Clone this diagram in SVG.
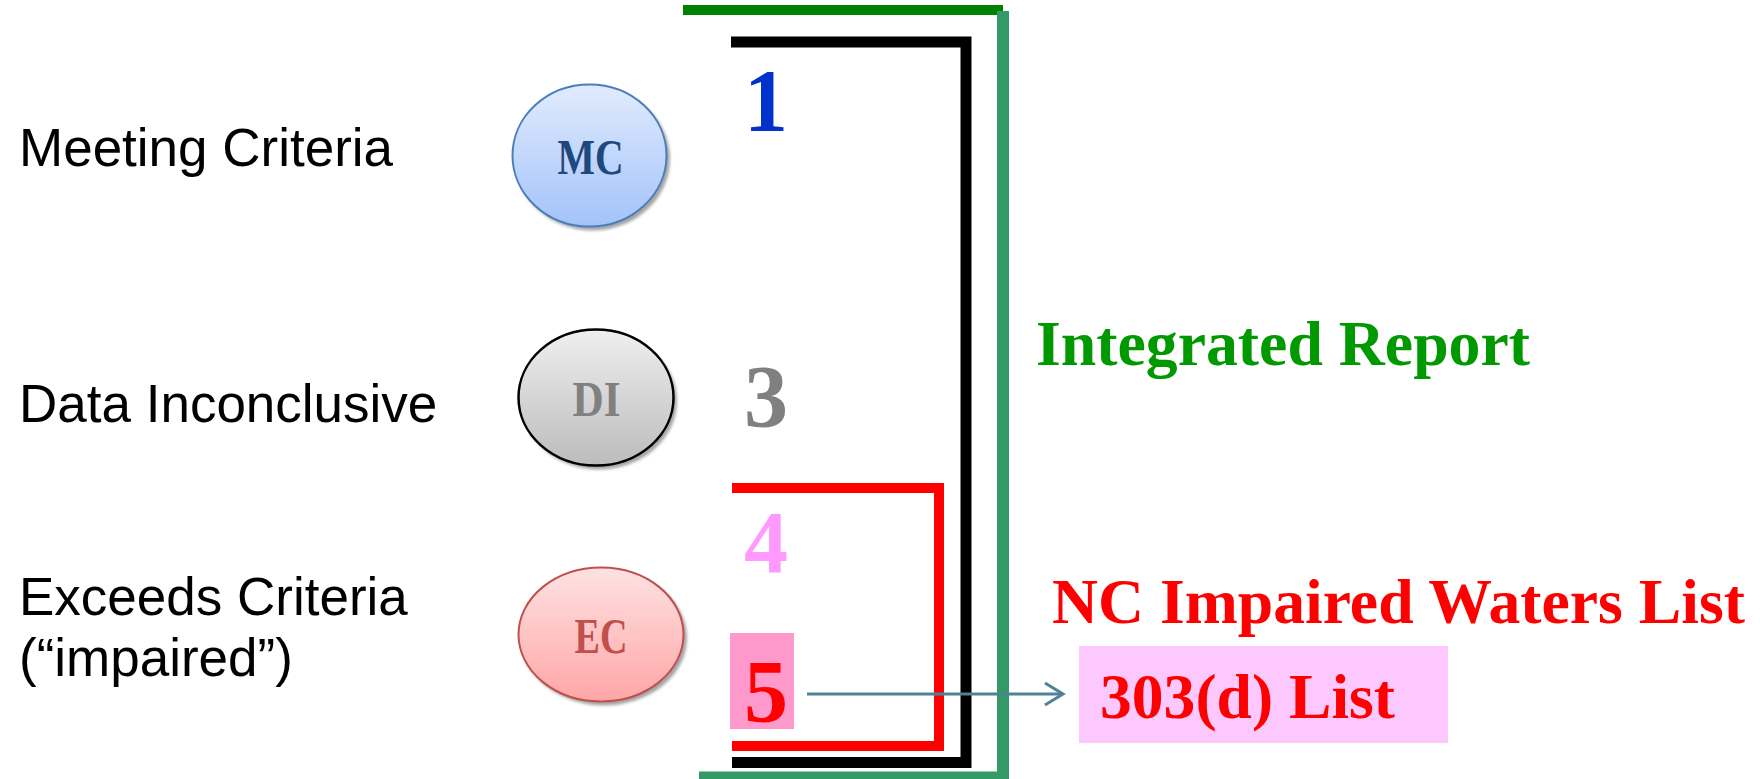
<svg xmlns="http://www.w3.org/2000/svg" width="1760" height="779" viewBox="0 0 1760 779">
<defs>
<linearGradient id="gMC" x1="0" y1="0" x2="0" y2="1"><stop offset="0" stop-color="#e1ebfd"/><stop offset="1" stop-color="#a3c3fa"/></linearGradient>
<linearGradient id="gDI" x1="0" y1="0" x2="0" y2="1"><stop offset="0" stop-color="#efefef"/><stop offset="1" stop-color="#bcbcbc"/></linearGradient>
<linearGradient id="gEC" x1="0" y1="0" x2="0" y2="1"><stop offset="0" stop-color="#fee2e2"/><stop offset="1" stop-color="#ffa6a6"/></linearGradient>
<filter id="blur" x="-10%" y="-10%" width="120%" height="120%"><feGaussianBlur stdDeviation="1.5"/></filter>
</defs>
<style>
.lbl{font-family:"Liberation Sans",Arial,sans-serif;font-size:53px;fill:#000}
.circ{font-family:"Liberation Serif","Times New Roman",serif;font-weight:bold;font-size:50px;text-anchor:middle}
.num{font-family:"Liberation Serif","Times New Roman",serif;font-weight:bold;font-size:88px}
.big{font-family:"Liberation Serif","Times New Roman",serif;font-weight:bold;font-size:64px}
.shadow{fill:#7f7f7f;opacity:0.7}
</style>
<rect width="1760" height="779" fill="#fff"/>

<g id="labels">
<text class="lbl" x="19" y="166">Meeting Criteria</text>
<text class="lbl" x="19" y="422">Data Inconclusive</text>
<text class="lbl" x="19" y="615">Exceeds Criteria</text>
<text class="lbl" x="19" y="676">(“impaired”)</text>
</g>

<g id="node-MC">
<ellipse class="shadow" cx="592.5" cy="159" rx="77.5" ry="71.5" filter="url(#blur)"/>
<ellipse cx="589.5" cy="155.5" rx="77" ry="71" fill="url(#gMC)" stroke="#4a7ebb" stroke-width="2"/>
<text class="circ" x="590.5" y="174" fill="#1f497d" textLength="66" lengthAdjust="spacingAndGlyphs">MC</text>
</g>

<g id="node-DI">
<ellipse class="shadow" cx="599" cy="401" rx="78" ry="68.5" filter="url(#blur)"/>
<ellipse cx="596" cy="397.5" rx="77.5" ry="68" fill="url(#gDI)" stroke="#000" stroke-width="2.5"/>
<text class="circ" x="596.5" y="416" fill="#808080" textLength="48" lengthAdjust="spacingAndGlyphs">DI</text>
</g>

<g id="node-EC">
<ellipse class="shadow" cx="604" cy="638" rx="83" ry="67.5" filter="url(#blur)"/>
<ellipse cx="601" cy="634.5" rx="82.5" ry="67" fill="url(#gEC)" stroke="#c0504d" stroke-width="2"/>
<text class="circ" x="601" y="653" fill="#c0504d" textLength="53" lengthAdjust="spacingAndGlyphs">EC</text>
</g>

<g id="brackets">
<line x1="683" y1="10" x2="1003" y2="10" stroke="#008000" stroke-width="10"/>
<line x1="1003" y1="11" x2="1003" y2="779" stroke="#339966" stroke-width="12"/>
<line x1="699" y1="775.5" x2="1009" y2="775.5" stroke="#339966" stroke-width="8"/>
<polyline points="731,42 966,42 966,762.5 732,762.5" fill="none" stroke="#000" stroke-width="11"/>
<polyline points="732,488 939,488 939,746 732,746" fill="none" stroke="#ff0000" stroke-width="10"/>
</g>

<g id="numbers">
<text class="num" x="744" y="130" fill="#0033cc">1</text>
<text class="num" x="744" y="426" fill="#808080">3</text>
<text class="num" x="744" y="572" fill="#ff99ff">4</text>
<rect x="730" y="633" width="64" height="96" fill="#ff99cc"/>
<text class="num" x="744" y="721" fill="#ff0000">5</text>
</g>

<g id="titles">
<text class="big" x="1036" y="365" fill="#009900" textLength="494" lengthAdjust="spacingAndGlyphs">Integrated Report</text>
<text class="big" x="1052" y="623" fill="#ff0000" textLength="693" lengthAdjust="spacingAndGlyphs">NC Impaired Waters List</text>
</g>

<g id="node-303d">
<rect x="1079" y="646" width="369" height="97" fill="#fdc8fd"/>
<text class="big" x="1100" y="718" fill="#ff0000" textLength="295" lengthAdjust="spacingAndGlyphs">303(d) List</text>
</g>

<g id="connectors">
<line x1="807" y1="694" x2="1061" y2="694" stroke="#4f8197" stroke-width="3"/>
<polyline points="1045,683 1063,694 1045,705" fill="none" stroke="#4f8197" stroke-width="3"/>
</g>
</svg>
